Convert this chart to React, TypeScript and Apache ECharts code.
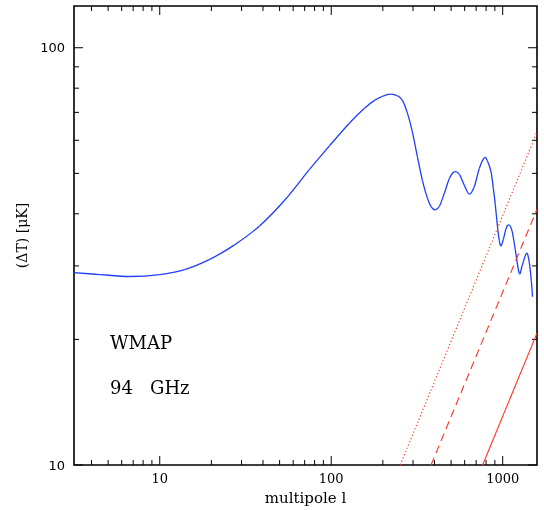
import React, { useEffect, useRef } from "react";
import * as echarts from "echarts";

const X_MIN = 3.1623;
const X_MAX = 1585;
const Y_MIN = 10;
const Y_MAX = 125.9;

// multipole l, ΔT [μK]
const spectrumL = [3.16, 4.47, 6.69, 10, 13.98, 19.55, 27.3, 38.2, 53.5, 74.7, 97.7, 127.9, 156.3, 178.8, 198.9, 221.5, 243.4, 260.2, 278.2, 297.5, 318.1, 340.1, 363.8, 383.8, 405, 427.4, 457, 488.7, 522.6, 558.8, 597.6, 639, 683.4, 730.8, 781.4, 813.5, 855, 881.9, 905.7, 934.1, 955.5, 977.5, 1008, 1049.5, 1092.5, 1137.3, 1184, 1249, 1300.5, 1378, 1428.6, 1467.6, 1493];
const spectrumT = [28.9, 28.6, 28.3, 28.6, 29.4, 31.1, 33.7, 37.4, 43.1, 51.1, 58.2, 66.0, 71.6, 74.8, 76.5, 77.4, 76.7, 74.8, 69.7, 62.8, 54.8, 48.1, 43.6, 41.5, 40.9, 41.7, 44.8, 48.6, 50.4, 49.7, 46.8, 44.6, 46.5, 51.4, 54.5, 53.6, 50.4, 46.0, 42.0, 37.0, 34.5, 33.5, 34.7, 37.0, 37.6, 36.2, 32.8, 28.8, 30.1, 32.2, 30.6, 27.7, 25.3];

// foreground lines (straight in log-log)
const dottedL = [252.5, 1585];
const dottedT = [10, 62.8];
const dashedL = [382, 1585];
const dashedT = [10, 41.0];
const solidL = [764, 1585];
const solidT = [10, 20.7];

const xMajorTicks = [10, 100, 1000];
const xMinorTicks = [4, 5, 6, 7, 8, 9, 20, 30, 40, 50, 60, 70, 80, 90, 200, 300, 400, 500, 600, 700, 800, 900];
const yMajorTicks = [10, 100];
const yMinorTicks = [20, 30, 40, 50, 60, 70, 80, 90];

const zip = (a: number[], b: number[]) => a.map((v, i) => [v, b[i]]);
const isPow10 = (v: number) => {
  const l = Math.log10(v);
  return Math.abs(l - Math.round(l)) < 1e-6;
};

export default function App() {
  const ref = useRef<HTMLDivElement>(null);
  useEffect(() => {
    if (!ref.current) return;
    const chart = echarts.init(ref.current, undefined, { renderer: "svg" });
    const xTickData = [
      ...xMajorTicks.map((v) => [v, Y_MIN, 1]),
      ...xMinorTicks.map((v) => [v, Y_MIN, 0]),
    ];
    const yTickData = [
      ...yMajorTicks.map((v) => [X_MIN, v, 1]),
      ...yMinorTicks.map((v) => [X_MIN, v, 0]),
    ];
    const tickStyle = { stroke: "#000", lineWidth: 1 };
    const annot = { fontFamily: "DejaVu Serif", fontSize: 18, fill: "#000" };
    const spectrum = zip(spectrumL, spectrumT);
    chart.setOption({
      animation: false,
      grid: {
        left: 74,
        right: 7,
        top: 6,
        bottom: 40,
        show: true,
        borderColor: "#000",
        borderWidth: 1.6,
        backgroundColor: "transparent",
      },
      xAxis: {
        type: "log",
        logBase: 10,
        min: X_MIN,
        max: X_MAX,
        name: "multipole l",
        nameLocation: "middle",
        nameGap: 25,
        nameTextStyle: { fontFamily: "DejaVu Serif", fontSize: 15, color: "#000" },
        axisLine: { show: false },
        axisTick: { show: false },
        splitLine: { show: false },
        axisLabel: {
          margin: 7,
          fontFamily: "DejaVu Serif",
          fontSize: 13,
          color: "#000",
          formatter: (v: number) => (isPow10(v) ? String(Math.round(v)) : ""),
        },
      },
      yAxis: {
        type: "log",
        logBase: 10,
        min: Y_MIN,
        max: Y_MAX,
        name: "(ΔT) [μK]",
        nameLocation: "middle",
        nameRotate: 90,
        nameGap: 37,
        nameTextStyle: { fontFamily: "DejaVu Serif", fontSize: 14, color: "#000" },
        axisLine: { show: false },
        axisTick: { show: false },
        splitLine: { show: false },
        axisLabel: {
          margin: 9,
          fontFamily: "DejaVu Sans",
          fontSize: 13,
          color: "#000",
          formatter: (v: number) => (isPow10(v) ? String(Math.round(v)) : ""),
        },
      },
      graphic: [
        { type: "text", left: 110, top: 333, style: { text: "WMAP", ...annot } },
        { type: "text", left: 110, top: 378, style: { text: "94", ...annot } },
        { type: "text", left: 150, top: 378, style: { text: "GHz", ...annot } },
      ],
      series: [
        {
          type: "line",
          data: zip(dottedL, dottedT),
          symbol: "none",
          clip: true,
          lineStyle: { color: "#ff3322", width: 1.1, type: [1.3, 2.2] },
        },
        {
          type: "line",
          data: zip(dashedL, dashedT),
          symbol: "none",
          clip: true,
          lineStyle: { color: "#ff3322", width: 1.1, type: [8, 5] },
        },
        {
          type: "line",
          data: zip(solidL, solidT),
          symbol: "none",
          clip: true,
          lineStyle: { color: "#ff3322", width: 1.1 },
        },
        {
          // blue spectrum drawn as a Catmull-Rom bezier chain through the data points
          type: "custom",
          clip: true,
          silent: true,
          data: spectrum,
          encode: { x: 0, y: 1 },
          renderItem: (params: any, api: any) => {
            if (params.dataIndex !== 0) return null;
            const pts = spectrum.map((d) => api.coord(d));
            const n = pts.length;
            const children: any[] = [];
            for (let i = 0; i < n - 1; i++) {
              const p0 = pts[Math.max(0, i - 1)];
              const p1 = pts[i];
              const p2 = pts[i + 1];
              const p3 = pts[Math.min(n - 1, i + 2)];
              children.push({
                type: "bezierCurve",
                shape: {
                  x1: p1[0],
                  y1: p1[1],
                  cpx1: p1[0] + (p2[0] - p0[0]) / 6,
                  cpy1: p1[1] + (p2[1] - p0[1]) / 6,
                  cpx2: p2[0] - (p3[0] - p1[0]) / 6,
                  cpy2: p2[1] - (p3[1] - p1[1]) / 6,
                  x2: p2[0],
                  y2: p2[1],
                },
                style: { stroke: "#1f3ff5", lineWidth: 1.3, fill: "none" },
              });
            }
            return { type: "group", children };
          },
        },
        {
          type: "custom",
          clip: false,
          silent: true,
          data: xTickData,
          encode: { x: 0, y: 1 },
          renderItem: (params: any, api: any) => {
            const v = api.value(0);
            const len = api.value(2) ? 9 : 5;
            const pb = api.coord([v, Y_MIN]);
            const pt = api.coord([v, Y_MAX]);
            return {
              type: "group",
              children: [
                { type: "line", shape: { x1: pb[0], y1: pb[1], x2: pb[0], y2: pb[1] - len }, style: tickStyle },
                { type: "line", shape: { x1: pt[0], y1: pt[1], x2: pt[0], y2: pt[1] + len }, style: tickStyle },
              ],
            };
          },
        },
        {
          type: "custom",
          clip: false,
          silent: true,
          data: yTickData,
          encode: { x: 0, y: 1 },
          renderItem: (params: any, api: any) => {
            const v = api.value(1);
            const len = api.value(2) ? 9 : 5;
            const pl = api.coord([X_MIN, v]);
            const pr = api.coord([X_MAX, v]);
            return {
              type: "group",
              children: [
                { type: "line", shape: { x1: pl[0], y1: pl[1], x2: pl[0] + len, y2: pl[1] }, style: tickStyle },
                { type: "line", shape: { x1: pr[0], y1: pr[1], x2: pr[0] - len, y2: pr[1] }, style: tickStyle },
              ],
            };
          },
        },
      ],
    });
    return () => chart.dispose();
  }, []);
  return <div ref={ref} style={{ position: "fixed", left: 0, top: 0, width: 544, height: 510 }} />;
}
